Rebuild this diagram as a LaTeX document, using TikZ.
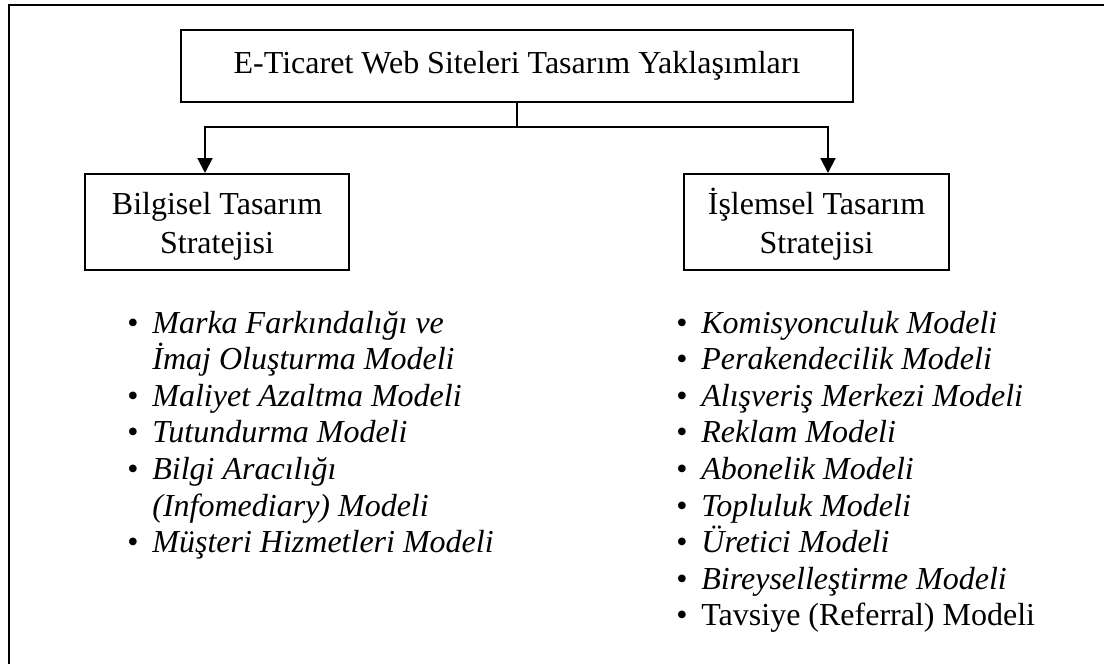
\documentclass[tikz,border=0pt]{standalone}
\usepackage{fontspec}
\setmainfont{Liberation Serif}
\usetikzlibrary{arrows.meta,positioning,calc}

\newcommand{\madde}[1]{\makebox[12.5pt][l]{\textbullet}#1}
\newcommand{\devam}[1]{\hspace*{12.5pt}#1}
\newcommand{\ustpay}{\rule{0pt}{15pt}}

\tikzset{
  kutu/.style={draw,line width=1pt,align=center,inner sep=0pt,font=\fontsize{16}{19.5}\selectfont},
  liste/.style={anchor=base west,inner sep=0pt,font=\fontsize{16}{18}\selectfont},
  ok/.style={line width=1pt,-{Triangle[width=7.5pt,length=7.5pt]}},
}

\begin{document}
\begin{tikzpicture}[x=0.5pt,y=-0.5pt]
  \useasboundingbox (0,0) rectangle (1104,664);
  % outer frame (cut at right and bottom)
  \draw[line width=1pt] (1104,5) -- (9,5) -- (9,664);
  % boxes
  \node[kutu,minimum width=336pt,minimum height=36pt] (ana) at (517,66) {E-Ticaret Web Siteleri Tasarım Yaklaşımları};
  \node[kutu,minimum width=132pt,minimum height=48pt] (bilgisel) at (217,222) {\ustpay Bilgisel Tasarım\\Stratejisi};
  \node[kutu,minimum width=132.5pt,minimum height=48pt] (islemsel) at (816.5,222) {\ustpay İşlemsel Tasarım\\Stratejisi};
  % connectors
  \coordinate (ayrim) at ($(ana.south)+(0,24)$);
  \draw[line width=1pt] (ana.south) -- (ayrim);
  \draw[ok] (ayrim) -| ($(bilgisel.north)+(-12,0)$);
  \draw[ok] (ayrim) -| ($(islemsel.north)+(11.5,0)$);
  % left list
  \foreach \yazi [count=\i] in {
    \madde{\textit{Marka Farkındalığı ve}},
    \devam{\textit{İmaj Oluşturma Modeli}},
    \madde{\textit{Maliyet Azaltma Modeli}},
    \madde{\textit{Tutundurma Modeli}},
    \madde{\textit{Bilgi Aracılığı}},
    \devam{\textit{(Infomediary) Modeli}},
    \madde{\textit{Müşteri Hizmetleri Modeli}}}
    \node[liste] (sol\i) at (127,{333+(\i-1)*36.6}) {\yazi};
  % right list
  \foreach \yazi [count=\i] in {
    \madde{\textit{Komisyonculuk Modeli}},
    \madde{\textit{Perakendecilik Modeli}},
    \madde{\textit{Alışveriş Merkezi Modeli}},
    \madde{\textit{Reklam Modeli}},
    \madde{\textit{Abonelik Modeli}},
    \madde{\textit{Topluluk Modeli}},
    \madde{\textit{Üretici Modeli}},
    \madde{\textit{Bireyselleştirme Modeli}},
    \madde{Tavsiye (Referral) Modeli}}
    \node[liste] (sag\i) at (676,{333+(\i-1)*36.6}) {\yazi};
\end{tikzpicture}
\end{document}
